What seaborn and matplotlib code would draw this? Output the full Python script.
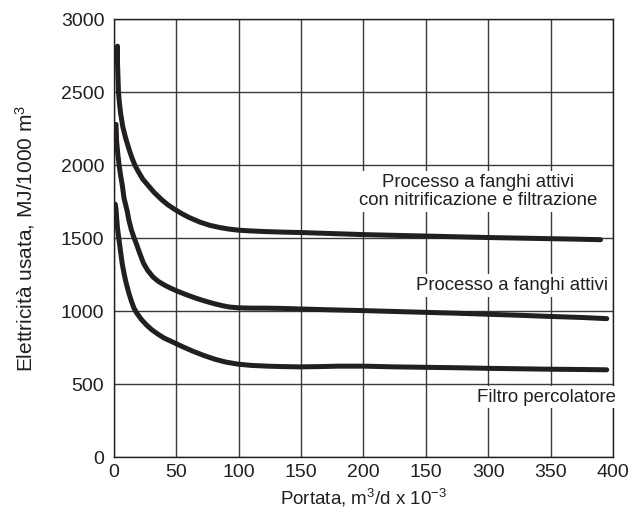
import pandas as pd
import numpy as np
import matplotlib
matplotlib.use("Agg")
import matplotlib.pyplot as plt
import seaborn as sns

# valori (portata in m3/d x 10^-3, elettricità in MJ/1000 m3)
x_nitro = [2.8, 2.8, 3.2, 3.6, 4.4, 5.4, 7, 9.3, 12, 14.5, 17, 19.7, 23, 27.5, 32, 37.8, 43, 48.2,
           54, 60, 69, 77, 85, 92, 100, 110, 120, 135, 150, 175, 200, 225, 250, 275, 300, 325,
           350, 370, 390]
y_nitro = [2814, 2700, 2600, 2500, 2420, 2349, 2265, 2186, 2110, 2047, 1995, 1953, 1905, 1860,
           1815, 1767, 1730, 1700, 1670, 1643, 1610, 1588, 1573, 1563, 1555, 1550, 1546, 1542,
           1539, 1532, 1525, 1520, 1515, 1510, 1505, 1501, 1497, 1494, 1490]

x_fanghi = [1.6, 2.1, 3, 4.1, 5.3, 6.7, 8, 9.3, 10.6, 11.9, 14, 16, 18, 20.5, 23.6, 27, 31.3,
            35.5, 40.4, 45, 50.8, 58.5, 65, 71.8, 80, 87.2, 93, 100, 110, 120, 135, 150, 175,
            200, 225, 250, 275, 300, 325, 350, 375, 395]
y_fanghi = [2279, 2163, 2080, 2000, 1930, 1860, 1775, 1730, 1685, 1625, 1555, 1505, 1460, 1400,
            1330, 1280, 1235, 1205, 1180, 1160, 1138, 1112, 1092, 1073, 1053, 1038, 1029, 1024,
            1022, 1022, 1020, 1016, 1010, 1005, 999, 993, 987, 980, 973, 965, 958, 950]

x_filtro = [1, 1.6, 2.2, 2.8, 4, 5.4, 6.7, 8.5, 10, 11.9, 14, 16, 18.4, 22, 26, 30, 35, 40,
            47, 55, 63, 72, 81, 90, 100, 110, 123, 135, 149, 165, 180, 200, 225, 250,
            275, 300, 325, 350, 375, 395]
y_filtro = [1733, 1700, 1630, 1570, 1490, 1400, 1320, 1240, 1185, 1125, 1068, 1022, 986, 944,
            907, 876, 845, 818, 790, 758, 728, 698, 672, 652, 638, 630, 625, 622, 620, 622,
            625, 625, 620, 617, 614, 610, 607, 604, 602, 600]

x_ticks = [0, 50, 100, 150, 200, 250, 300, 350, 400]
x_tick_labels = ["0", "50", "100", "150", "200", "150", "300", "350", "400"]
y_ticks = [0, 500, 1000, 1500, 2000, 2500, 3000]

df = pd.concat([
    pd.DataFrame({"portata": x_nitro, "energia": y_nitro, "processo": "nitro"}),
    pd.DataFrame({"portata": x_fanghi, "energia": y_fanghi, "processo": "fanghi"}),
    pd.DataFrame({"portata": x_filtro, "energia": y_filtro, "processo": "filtro"}),
])

sns.set_style("white")
plt.rcParams["font.family"] = ["Liberation Sans", "DejaVu Sans"]
plt.rcParams["mathtext.default"] = "regular"

ink = "#231f20"
fig = plt.figure(figsize=(6.43, 5.18), dpi=100)
ax = fig.add_axes([0.1773, 0.1168, 0.7760, 0.8465])

ax.grid(True, color="#3a3a3a", linewidth=1.0)
ax.set_axisbelow(True)

sns.lineplot(data=df, x="portata", y="energia", units="processo", estimator=None,
             sort=False, color=ink, linewidth=3.6, ax=ax, zorder=3)
for ln in ax.lines:
    ln.set_solid_joinstyle("round")

ax.set_xlim(0, 400)
ax.set_ylim(0, 3000)
ax.set_xticks(x_ticks)
ax.set_xticklabels(x_tick_labels)
ax.set_yticks(y_ticks)
ax.tick_params(length=0, labelsize=14, colors=ink)
ax.tick_params(axis="y", pad=7)
ax.tick_params(axis="x", pad=5)
for s in ax.spines.values():
    s.set_color(ink)
    s.set_linewidth(1.0)

ax.set_xlabel("Portata, m$^3$/d x 10$^{-3}$", fontsize=13.5, color=ink, labelpad=4)
ax.set_ylabel("Elettricità usata, MJ/1000 m$^3$", fontsize=15, color=ink, labelpad=17)

box = dict(facecolor="white", edgecolor="none", pad=2)
ax.text(292, 1819, "Processo a fanghi attivi\ncon nitrificazione e filtrazione",
        ha="center", va="center", fontsize=13.4, color=ink, bbox=box,
        linespacing=1.1, zorder=4)
ax.text(319, 1177, "Processo a fanghi attivi", ha="center", va="center",
        fontsize=13.4, color=ink, bbox=box, zorder=4)
ax.text(347, 413, "Filtro percolatore", ha="center", va="center",
        fontsize=13.4, color=ink, bbox=box, zorder=4)

fig.savefig("out.png", dpi=100)
